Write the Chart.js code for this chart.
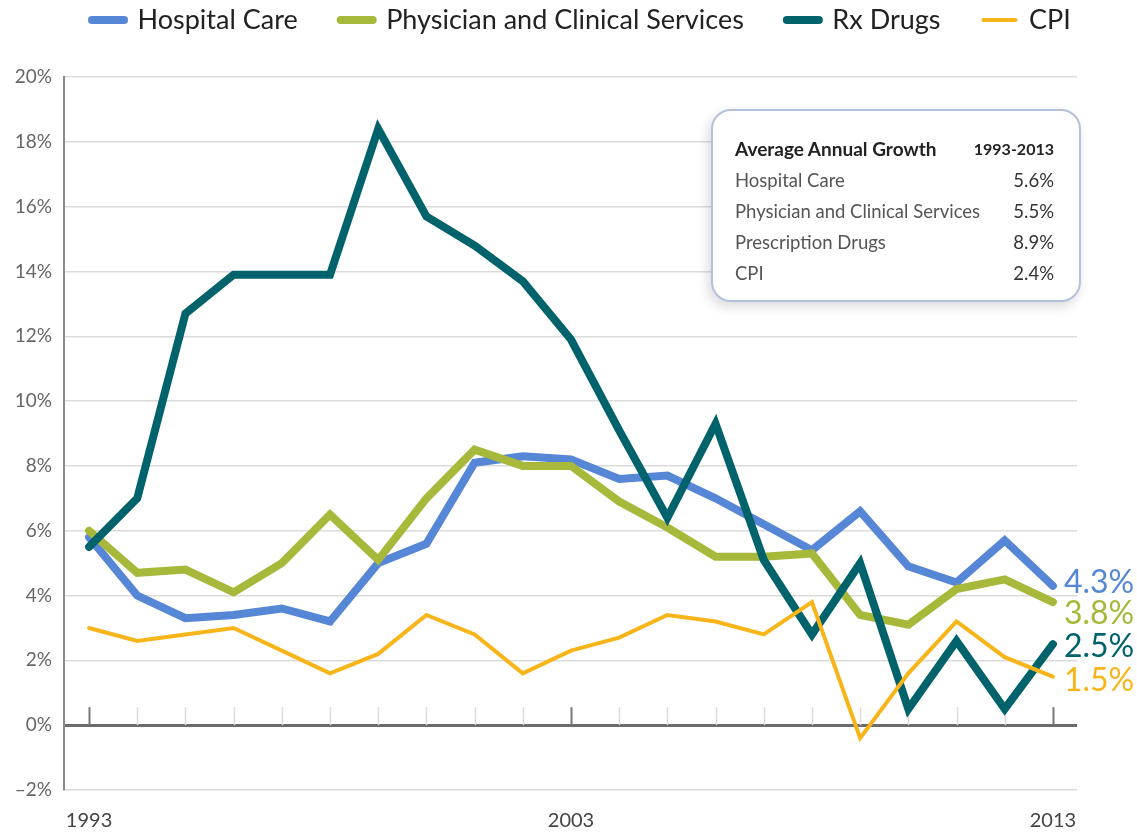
<!DOCTYPE html>
<html lang="en">
<head>
  <meta charset="UTF-8">
  <title>Average annual growth 1993-2013</title>
  <script src="https://cdn.jsdelivr.net/npm/chart.js"></script>
  <style>
    body {
      margin: 0;
      background: #fff;
      font-family: Lato, sans-serif;
    }
    .wrap {
      position: relative;
      width: 1137px;
      height: 832px;
    }
    .inset {
      position: absolute;
      left: 711px;
      top: 109px;
      width: 370px;
      height: 193px;
      box-sizing: border-box;
      border: 2px solid #b3c2dc;
      border-radius: 20px;
      background: #fff;
      padding: 22px 25px 0 22px;
      box-shadow: -3px 5px 12px rgba(0,0,0,0.14);
    }
    .inset .row {
      display: flex;
      justify-content: space-between;
      align-items: center;
      height: 31px;
      font-size: 18.5px;
      color: #555;
    }
    .inset .row span:last-child {
      color: #333;
    }
    .inset .head {
      font-weight: bold;
      color: #222;
      font-size: 19px;
    }
    .inset .head span:last-child {
      font-size: 16px;
      color: #222;
    }
  </style>
</head>
<body>
  <div class="wrap">
    <canvas id="growthChart" width="1137" height="832"></canvas>
    <div class="inset" id="inset"></div>
  </div>

  <script>
    const years = [1993, 1994, 1995, 1996, 1997, 1998, 1999, 2000, 2001, 2002, 2003,
                   2004, 2005, 2006, 2007, 2008, 2009, 2010, 2011, 2012, 2013];
    const hospital  = [5.8, 4.0, 3.3, 3.4, 3.6, 3.2, 5.0, 5.6, 8.1, 8.3, 8.2, 7.6, 7.7, 7.0, 6.2, 5.4, 6.6, 4.9, 4.4, 5.7, 4.3];
    const physician = [6.0, 4.7, 4.8, 4.1, 5.0, 6.5, 5.1, 7.0, 8.5, 8.0, 8.0, 6.9, 6.1, 5.2, 5.2, 5.3, 3.4, 3.1, 4.2, 4.5, 3.8];
    const rxDrugs   = [5.5, 7.0, 12.7, 13.9, 13.9, 13.9, 18.4, 15.7, 14.8, 13.7, 11.9, 9.1, 6.4, 9.3, 5.1, 2.8, 5.0, 0.5, 2.6, 0.5, 2.5];
    const cpi       = [3.0, 2.6, 2.8, 3.0, 2.3, 1.6, 2.2, 3.4, 2.8, 1.6, 2.3, 2.7, 3.4, 3.2, 2.8, 3.8, -0.4, 1.6, 3.2, 2.1, 1.5];
    const seriesNames = ["Hospital Care", "Physician and Clinical Services", "Rx Drugs", "CPI"];
    const yearLabels = [1993, 2003, 2013];

    const growthHeader = ["Average Annual Growth", "1993-2013"];
    const growthRows = ["Hospital Care", "Physician and Clinical Services", "Prescription Drugs", "CPI"];
    const growthValues = ["5.6%", "5.5%", "8.9%", "2.4%"];

    // inset table
    const inset = document.getElementById("inset");
    inset.innerHTML = `<div class="row head"><span>${growthHeader[0]}</span><span>${growthHeader[1]}</span></div>` +
      growthRows.map((r, i) => `<div class="row"><span>${r}</span><span>${growthValues[i]}</span></div>`).join("");

    const colors = ["#5686d6", "#a7b83b", "#00636b", "#f8b519"];
    const widths = [8, 8, 8, 4];
    const drawOrder = [3, 2, 1, 0];
    const series = [hospital, physician, rxDrugs, cpi];

    const datasets = seriesNames.map((name, i) => ({
      label: name,
      data: years.map((yr, k) => ({ x: yr, y: series[i][k] })),
      borderColor: colors[i],
      backgroundColor: colors[i],
      borderWidth: widths[i],
      borderCapStyle: "round",
      borderJoinStyle: "miter",
      pointRadius: 0,
      pointHoverRadius: 0,
      tension: 0,
      fill: false,
      order: drawOrder[i]
    }));

    // move the legend row so it starts at x=92 and sits at y=20
    const legendNudge = {
      id: "legendNudge",
      afterLayout(chart) {
        const lg = chart.legend;
        const lab = lg.options.labels;
        const start = (lg.left + lab.padding + lg.right - lg.lineWidths[0]) / 2;
        const dx = 92 - start;
        const dy = 20 - (lg.top + lab.padding + lab.font.size / 2);
        lg.left += dx; lg.right += dx;
        lg.top += dy; lg.bottom += dy;
      }
    };

    // small year ticks sitting on the zero line
    const yearTicks = {
      id: "yearTicks",
      beforeDatasetsDraw(chart) {
        const { ctx, scales: { x, y } } = chart;
        const y0 = y.getPixelForValue(0);
        ctx.save();
        years.forEach(yr => {
          const px = Math.round(x.getPixelForValue(yr)) + 0.5;
          const major = yearLabels.includes(yr);
          ctx.strokeStyle = major ? "#777" : "#dcdcdc";
          ctx.lineWidth = major ? 2 : 1.5;
          ctx.beginPath();
          ctx.moveTo(px, y0);
          ctx.lineTo(px, y0 - 18);
          ctx.stroke();
        });
        ctx.restore();
      }
    };

    // value labels at the right end of each line
    const labelNudge = [-3, 12, 3, 4];
    const endLabels = {
      id: "endLabels",
      afterDatasetsDraw(chart) {
        const { ctx } = chart;
        ctx.save();
        ctx.font = "32px Lato";
        ctx.textAlign = "left";
        ctx.textBaseline = "middle";
        chart.data.datasets.forEach((ds, i) => {
          const meta = chart.getDatasetMeta(i);
          const pt = meta.data[meta.data.length - 1];
          const val = ds.data[ds.data.length - 1].y;
          ctx.fillStyle = ds.borderColor;
          ctx.fillText(val.toFixed(1) + "%", pt.x + 11, pt.y + labelNudge[i]);
        });
        ctx.restore();
      }
    };

    new Chart(document.getElementById("growthChart").getContext("2d"), {
      type: "line",
      data: { datasets: datasets },
      plugins: [legendNudge, yearTicks, endLabels],
      options: {
        responsive: false,
        animation: false,
        events: [],
        layout: { padding: { top: 2 } },
        plugins: {
          tooltip: { enabled: false },
          legend: {
            position: "top",
            maxHeight: 75,
            labels: {
              usePointStyle: true,
              pointStyle: "line",
              pointStyleWidth: 32,
              padding: 43,
              color: "#222",
              font: { family: "Lato", size: 27 },
              sort: (a, b) => a.datasetIndex - b.datasetIndex,
              generateLabels: chart => Chart.defaults.plugins.legend.labels.generateLabels(chart).map(it => {
                const ds = chart.data.datasets[it.datasetIndex];
                it.lineWidth = ds.borderWidth;
                it.lineCap = "round";
                it.strokeStyle = ds.borderColor;
                return it;
              })
            }
          }
        },
        scales: {
          x: {
            type: "linear",
            min: 1992.48,
            max: 2013.5,
            grid: { display: false },
            border: { display: false },
            afterBuildTicks: s => { s.ticks = yearLabels.map(v => ({ value: v })); },
            afterFit: s => { s.height = 42; },
            ticks: {
              color: "#444",
              font: { family: "Lato", size: 20 },
              padding: 11,
              maxRotation: 0,
              autoSkip: false,
              callback: v => String(v)
            }
          },
          y: {
            min: -2,
            max: 20,
            afterFit: s => { s.width = 64; },
            ticks: {
              stepSize: 2,
              color: "#666",
              font: { family: "Lato", size: 19 },
              padding: 12,
              callback: v => (v < 0 ? "\u2013" + Math.abs(v) : v) + "%"
            },
            grid: {
              drawTicks: false,
              color: c => (c.tick && c.tick.value === 0 ? "#6b6b6b" : "#dcdcdc"),
              lineWidth: c => (c.tick && c.tick.value === 0 ? 3 : 1.5)
            },
            border: { display: true, color: "#8a8a8a", width: 2 }
          },
          yR: {
            position: "right",
            grid: { display: false },
            border: { display: false },
            ticks: { display: false },
            afterFit: s => { s.width = 60; }
          }
        }
      }
    });
  </script>
</body>
</html>
